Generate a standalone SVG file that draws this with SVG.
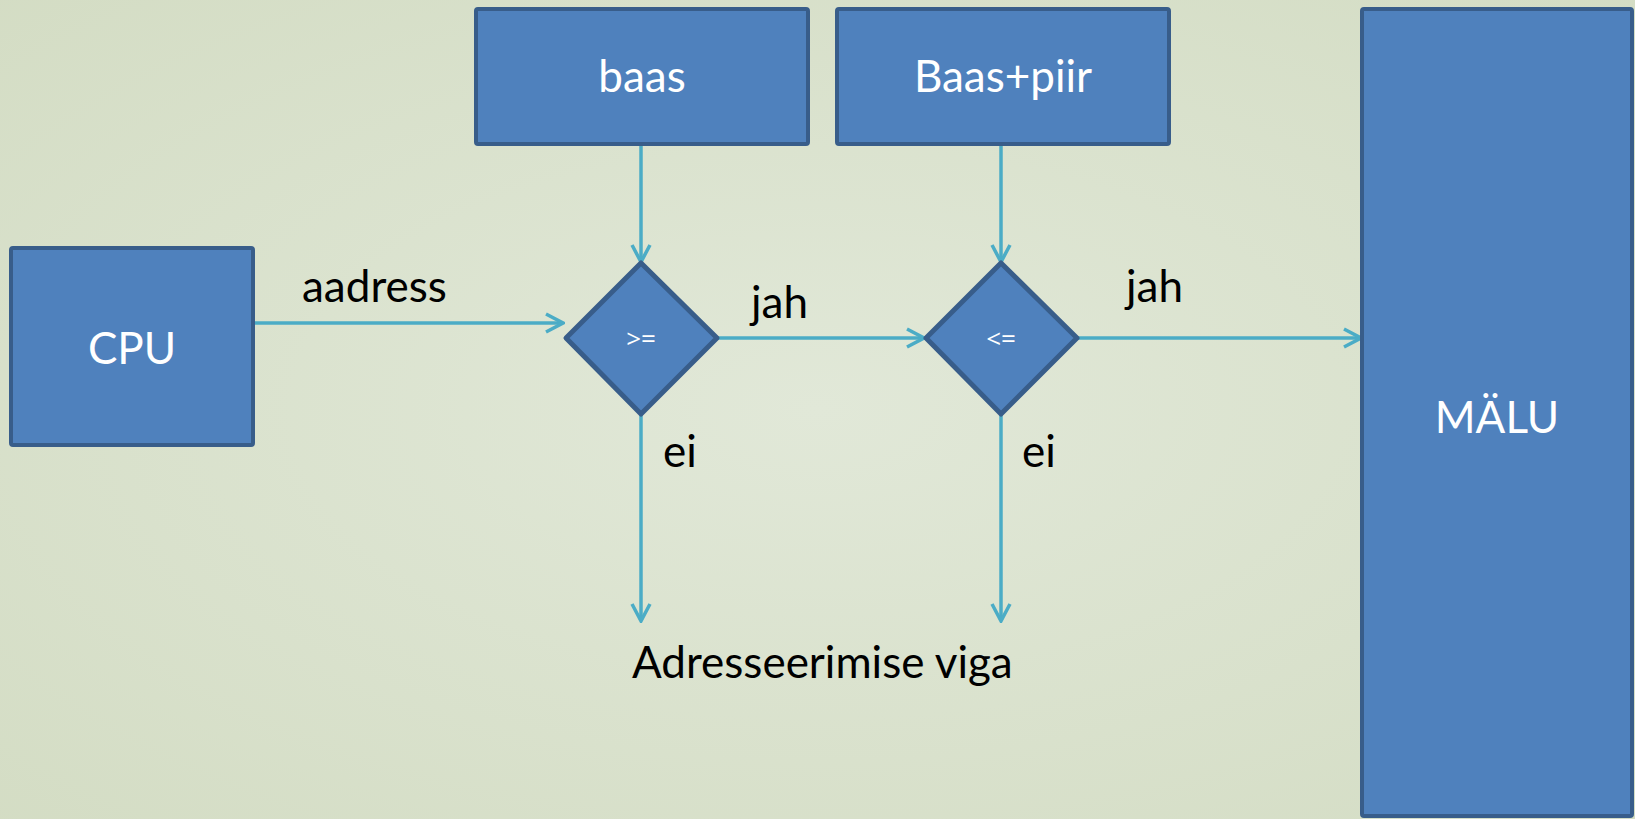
<svg xmlns="http://www.w3.org/2000/svg" width="1635" height="819" viewBox="0 0 1635 819">
<defs>
<radialGradient id="bg" cx="50%" cy="50%" r="75%">
<stop offset="0" stop-color="#e1e8d8"/>
<stop offset="1" stop-color="#d3dcc3"/>
</radialGradient>
<marker id="arr" viewBox="0 0 22 22" refX="20" refY="11" markerWidth="22" markerHeight="22" markerUnits="userSpaceOnUse" orient="auto">
<path d="M3,2 L20,11 L3,20" fill="none" stroke="#4bacc6" stroke-width="3.5"/>
</marker>
<style>
.box{fill:#4f81bd;stroke:#385d8a;stroke-width:4;}
.dia{fill:#4f81bd;stroke:#385d8a;stroke-width:5;stroke-linejoin:round;}
.wt{fill:#ffffff;font-family:Lato,"Open Sans",sans-serif;font-size:44px;text-anchor:middle;}
.bt{fill:#000000;font-family:Lato,"Open Sans",sans-serif;font-size:44px;}
.sm{fill:#ffffff;font-family:"Open Sans",Lato,sans-serif;font-size:26px;text-anchor:middle;}
.con{stroke:#4bacc6;stroke-width:3.5;fill:none;marker-end:url(#arr);}
</style>
</defs>
<rect width="1635" height="819" fill="url(#bg)"/>
<g id="connectors">
<line class="con" x1="253" y1="323" x2="563" y2="323"/>
<line class="con" x1="717" y1="338" x2="924" y2="338"/>
<line class="con" x1="1077" y1="338" x2="1361" y2="338"/>
<line class="con" x1="641" y1="144" x2="641" y2="262"/>
<line class="con" x1="1001" y1="144" x2="1001" y2="262"/>
<line class="con" x1="641" y1="414" x2="641" y2="621"/>
<line class="con" x1="1001" y1="414" x2="1001" y2="621"/>
</g>
<g id="cpu">
<rect class="box" x="11" y="248" width="242" height="197" rx="2"/>
<text class="wt" x="132" y="364">CPU</text>
</g>
<g id="baas">
<rect class="box" x="476" y="9" width="332" height="135" rx="2"/>
<text class="wt" x="642" y="92">baas</text>
</g>
<g id="baaspiir">
<rect class="box" x="837" y="9" width="332" height="135" rx="2"/>
<text class="wt" x="1003" y="92">Baas+piir</text>
</g>
<g id="malu">
<rect class="box" x="1362" y="9" width="270" height="807" rx="2"/>
<text class="wt" x="1497" y="433">MÄLU</text>
</g>
<g id="ge">
<polygon class="dia" points="641,263 717,338 641,414 566,338"/>
<text class="sm" x="641" y="348">&gt;=</text>
</g>
<g id="le">
<polygon class="dia" points="1001,263 1077,338 1001,414 926,338"/>
<text class="sm" x="1001" y="348">&lt;=</text>
</g>
<g id="labels">
<text class="bt" x="302" y="302">aadress</text>
<text class="bt" x="751" y="318">jah</text>
<text class="bt" x="1126" y="302">jah</text>
<text class="bt" x="663" y="467">ei</text>
<text class="bt" x="1022" y="467">ei</text>
<text class="bt" x="632" y="678">Adresseerimise viga</text>
</g>
</svg>
